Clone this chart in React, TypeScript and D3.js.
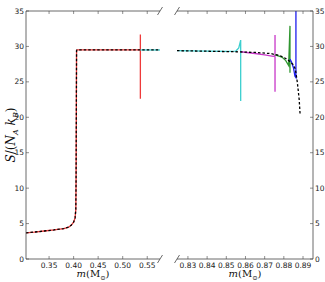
import * as d3 from "d3";

const W = 325;
const H = 282;

// left panel (before the break) and right panel (after it)
const LEFT = { x0: 26, x1: 160 };
const RIGHT = { x0: 177, x1: 313 };
const TOP = 11;
const BOTTOM = 259;

const leftDomain = [0.303, 0.576];
const rightDomain = [0.8243, 0.8952];
const yTicks = [0, 5, 10, 15, 20, 25, 30, 35];
const leftTicks = [0.35, 0.4, 0.45, 0.5, 0.55];
const rightTicks = [0.83, 0.84, 0.85, 0.86, 0.87, 0.88, 0.89];

// full track (black dashed)
const mLeft = [0.303, 0.32, 0.34, 0.36, 0.38, 0.39, 0.395, 0.4, 0.403, 0.4045, 0.405, 0.4055, 0.406, 0.407, 0.45, 0.5, 0.55, 0.576];
const sLeft = [3.7, 3.8, 3.95, 4.1, 4.3, 4.5, 4.75, 5.2, 5.8, 7, 11, 20, 29.4, 29.5, 29.5, 29.5, 29.5, 29.5];
const mRight = [0.8243, 0.835, 0.845, 0.855, 0.865, 0.873, 0.878, 0.881, 0.883, 0.885, 0.886, 0.887, 0.8875, 0.888, 0.8885];
const sRight = [29.4, 29.35, 29.3, 29.25, 29.15, 29.0, 28.7, 28.3, 27.9, 27.4, 26.8, 25.0, 23.8, 22.5, 20.3];

// models ending in a flash (vertical spike)
const mRed = [0.303, 0.32, 0.34, 0.36, 0.38, 0.39, 0.395, 0.4, 0.403, 0.4045, 0.405, 0.4055, 0.406, 0.407, 0.45, 0.5, 0.536, 0.536, 0.536];
const sRed = [3.7, 3.8, 3.95, 4.1, 4.3, 4.5, 4.75, 5.2, 5.8, 7, 11, 20, 29.4, 29.5, 29.5, 29.5, 29.5, 31.7, 22.6];
const mCyanL = [0.536, 0.576];
const sCyanL = [29.5, 29.5];
const mCyan = [0.8243, 0.84, 0.85, 0.855, 0.8565, 0.8575, 0.8575];
const sCyan = [29.4, 29.35, 29.3, 29.35, 29.8, 30.9, 22.3];
const mMagenta = [0.8575, 0.865, 0.87, 0.8745, 0.8754, 0.8754, 0.8754];
const sMagenta = [29.25, 29.0, 28.8, 28.6, 28.7, 31.6, 23.6];
const mGreen = [0.8754, 0.879, 0.881, 0.8825, 0.8832, 0.8832];
const sGreen = [28.8, 28.5, 28.0, 27.3, 32.9, 26.3];
const mBlue = [0.8832, 0.884, 0.885, 0.8858, 0.8863, 0.8863];
const sBlue = [28.2, 27.8, 27.0, 25.8, 25.6, 36];

const FONT = "DejaVu Sans, sans-serif";
const FRAME = "#444";

type Pt = [number, number];
const zip = (m: number[], s: number[]): Pt[] => m.map((v, i) => [v, s[i]]);

export default function App() {
  const y = d3.scaleLinear().domain([0, 35]).range([BOTTOM, TOP]);
  const xL = d3.scaleLinear().domain(leftDomain).range([LEFT.x0, LEFT.x1]);
  const xR = d3.scaleLinear().domain(rightDomain).range([RIGHT.x0, RIGHT.x1]);

  const lineL = d3.line<Pt>().x((d) => xL(d[0])).y((d) => y(d[1]));
  const lineR = d3.line<Pt>().x((d) => xR(d[0])).y((d) => y(d[1]));

  const slash = (cx: number, cy: number, key: string) => (
    <line key={key} x1={cx - 2.5} y1={cy + 4} x2={cx + 2.5} y2={cy - 4} stroke={FRAME} strokeWidth={0.8} />
  );

  const tickLen = 3;

  return (
    <svg width={W} height={H} style={{ position: "absolute", left: 0, top: 0, background: "#fff" }} fontFamily={FONT}>
      <defs>
        <clipPath id="clipL">
          <rect x={LEFT.x0} y={TOP} width={LEFT.x1 - LEFT.x0} height={BOTTOM - TOP} />
        </clipPath>
        <clipPath id="clipR">
          <rect x={RIGHT.x0} y={TOP} width={RIGHT.x1 - RIGHT.x0} height={BOTTOM - TOP} />
        </clipPath>
      </defs>

      {/* data, left panel */}
      <g clipPath="url(#clipL)" fill="none" strokeWidth={1.3}>
        <path d={lineL(zip(mRed, sRed)) ?? ""} stroke="#ee3a3a" />
        <path d={lineL(zip(mCyanL, sCyanL)) ?? ""} stroke="#3ccfcf" />
        <path d={lineL(zip(mLeft, sLeft)) ?? ""} stroke="#000" strokeDasharray="2.5,2" />
      </g>

      {/* data, right panel */}
      <g clipPath="url(#clipR)" fill="none" strokeWidth={1.3}>
        <path d={lineR(zip(mCyan, sCyan)) ?? ""} stroke="#3ccfcf" />
        <path d={lineR(zip(mMagenta, sMagenta)) ?? ""} stroke="#c838c8" />
        <path d={lineR(zip(mGreen, sGreen)) ?? ""} stroke="#2f962f" />
        <path d={lineR(zip(mBlue, sBlue)) ?? ""} stroke="#1f1fee" />
        <path d={lineR(zip(mRight, sRight)) ?? ""} stroke="#000" strokeDasharray="2.5,2" />
      </g>

      {/* frame */}
      <g stroke={FRAME} strokeWidth={0.8}>
        <line x1={LEFT.x0} y1={TOP} x2={LEFT.x0} y2={BOTTOM} />
        <line x1={LEFT.x0} y1={TOP} x2={LEFT.x1} y2={TOP} />
        <line x1={LEFT.x0} y1={BOTTOM} x2={LEFT.x1} y2={BOTTOM} />
        <line x1={RIGHT.x1} y1={TOP} x2={RIGHT.x1} y2={BOTTOM} />
        <line x1={RIGHT.x0} y1={TOP} x2={RIGHT.x1} y2={TOP} />
        <line x1={RIGHT.x0} y1={BOTTOM} x2={RIGHT.x1} y2={BOTTOM} />
        {slash(LEFT.x1, TOP, "s1")}
        {slash(LEFT.x1, BOTTOM, "s2")}
        {slash(RIGHT.x0, TOP, "s3")}
        {slash(RIGHT.x0, BOTTOM, "s4")}
      </g>

      {/* ticks */}
      <g stroke={FRAME} strokeWidth={0.6}>
        {leftTicks.map((t) => (
          <g key={"lt" + t}>
            <line x1={xL(t)} x2={xL(t)} y1={BOTTOM} y2={BOTTOM - tickLen} />
            <line x1={xL(t)} x2={xL(t)} y1={TOP} y2={TOP + tickLen} />
          </g>
        ))}
        {rightTicks.map((t) => (
          <g key={"rt" + t}>
            <line x1={xR(t)} x2={xR(t)} y1={BOTTOM} y2={BOTTOM - tickLen} />
            <line x1={xR(t)} x2={xR(t)} y1={TOP} y2={TOP + tickLen} />
          </g>
        ))}
        {yTicks.map((t) => (
          <g key={"yt" + t}>
            <line x1={LEFT.x0} x2={LEFT.x0 + tickLen} y1={y(t)} y2={y(t)} />
            <line x1={RIGHT.x1} x2={RIGHT.x1 - tickLen} y1={y(t)} y2={y(t)} />
          </g>
        ))}
      </g>

      {/* tick labels */}
      <g fontSize={7.5} fill="#222">
        {leftTicks.map((t) => (
          <text key={"ll" + t} x={xL(t)} y={BOTTOM + 8.5} textAnchor="middle">
            {d3.format(".2f")(t)}
          </text>
        ))}
        {rightTicks.map((t) => (
          <text key={"rl" + t} x={xR(t)} y={BOTTOM + 8.5} textAnchor="middle">
            {d3.format(".2f")(t)}
          </text>
        ))}
        {yTicks.map((t) => (
          <g key={"yl" + t}>
            <text x={LEFT.x0 - 2} y={y(t)} dy="0.35em" textAnchor="end">{t}</text>
            <text x={RIGHT.x1 + 2} y={y(t)} dy="0.35em" textAnchor="start">{t}</text>
          </g>
        ))}
      </g>

      {/* axis labels */}
      <g fill="#111" fontFamily="DejaVu Serif, serif">
        {[(LEFT.x0 + LEFT.x1) / 2, (RIGHT.x0 + RIGHT.x1) / 2].map((cx, i) => (
          <text key={"xl" + i} x={cx} y={277} textAnchor="middle" fontSize={10}>
            <tspan fontStyle="italic">m</tspan>
            <tspan>(M</tspan>
            <tspan fontSize={6.5} dy={2.5}>⊙</tspan>
            <tspan dy={-2.5}>)</tspan>
          </text>
        ))}
        <text transform={`translate(15,${(TOP + BOTTOM) / 2}) rotate(-90)`} textAnchor="middle" fontSize={12}>
          <tspan fontStyle="italic">S</tspan>
          <tspan>/(</tspan>
          <tspan fontStyle="italic">N</tspan>
          <tspan fontStyle="italic" fontSize={8} dy={3}>A</tspan>
          <tspan dy={-3}> </tspan>
          <tspan fontStyle="italic">k</tspan>
          <tspan fontStyle="italic" fontSize={8} dy={3}>B</tspan>
          <tspan dy={-3}>)</tspan>
        </text>
      </g>
    </svg>
  );
}
